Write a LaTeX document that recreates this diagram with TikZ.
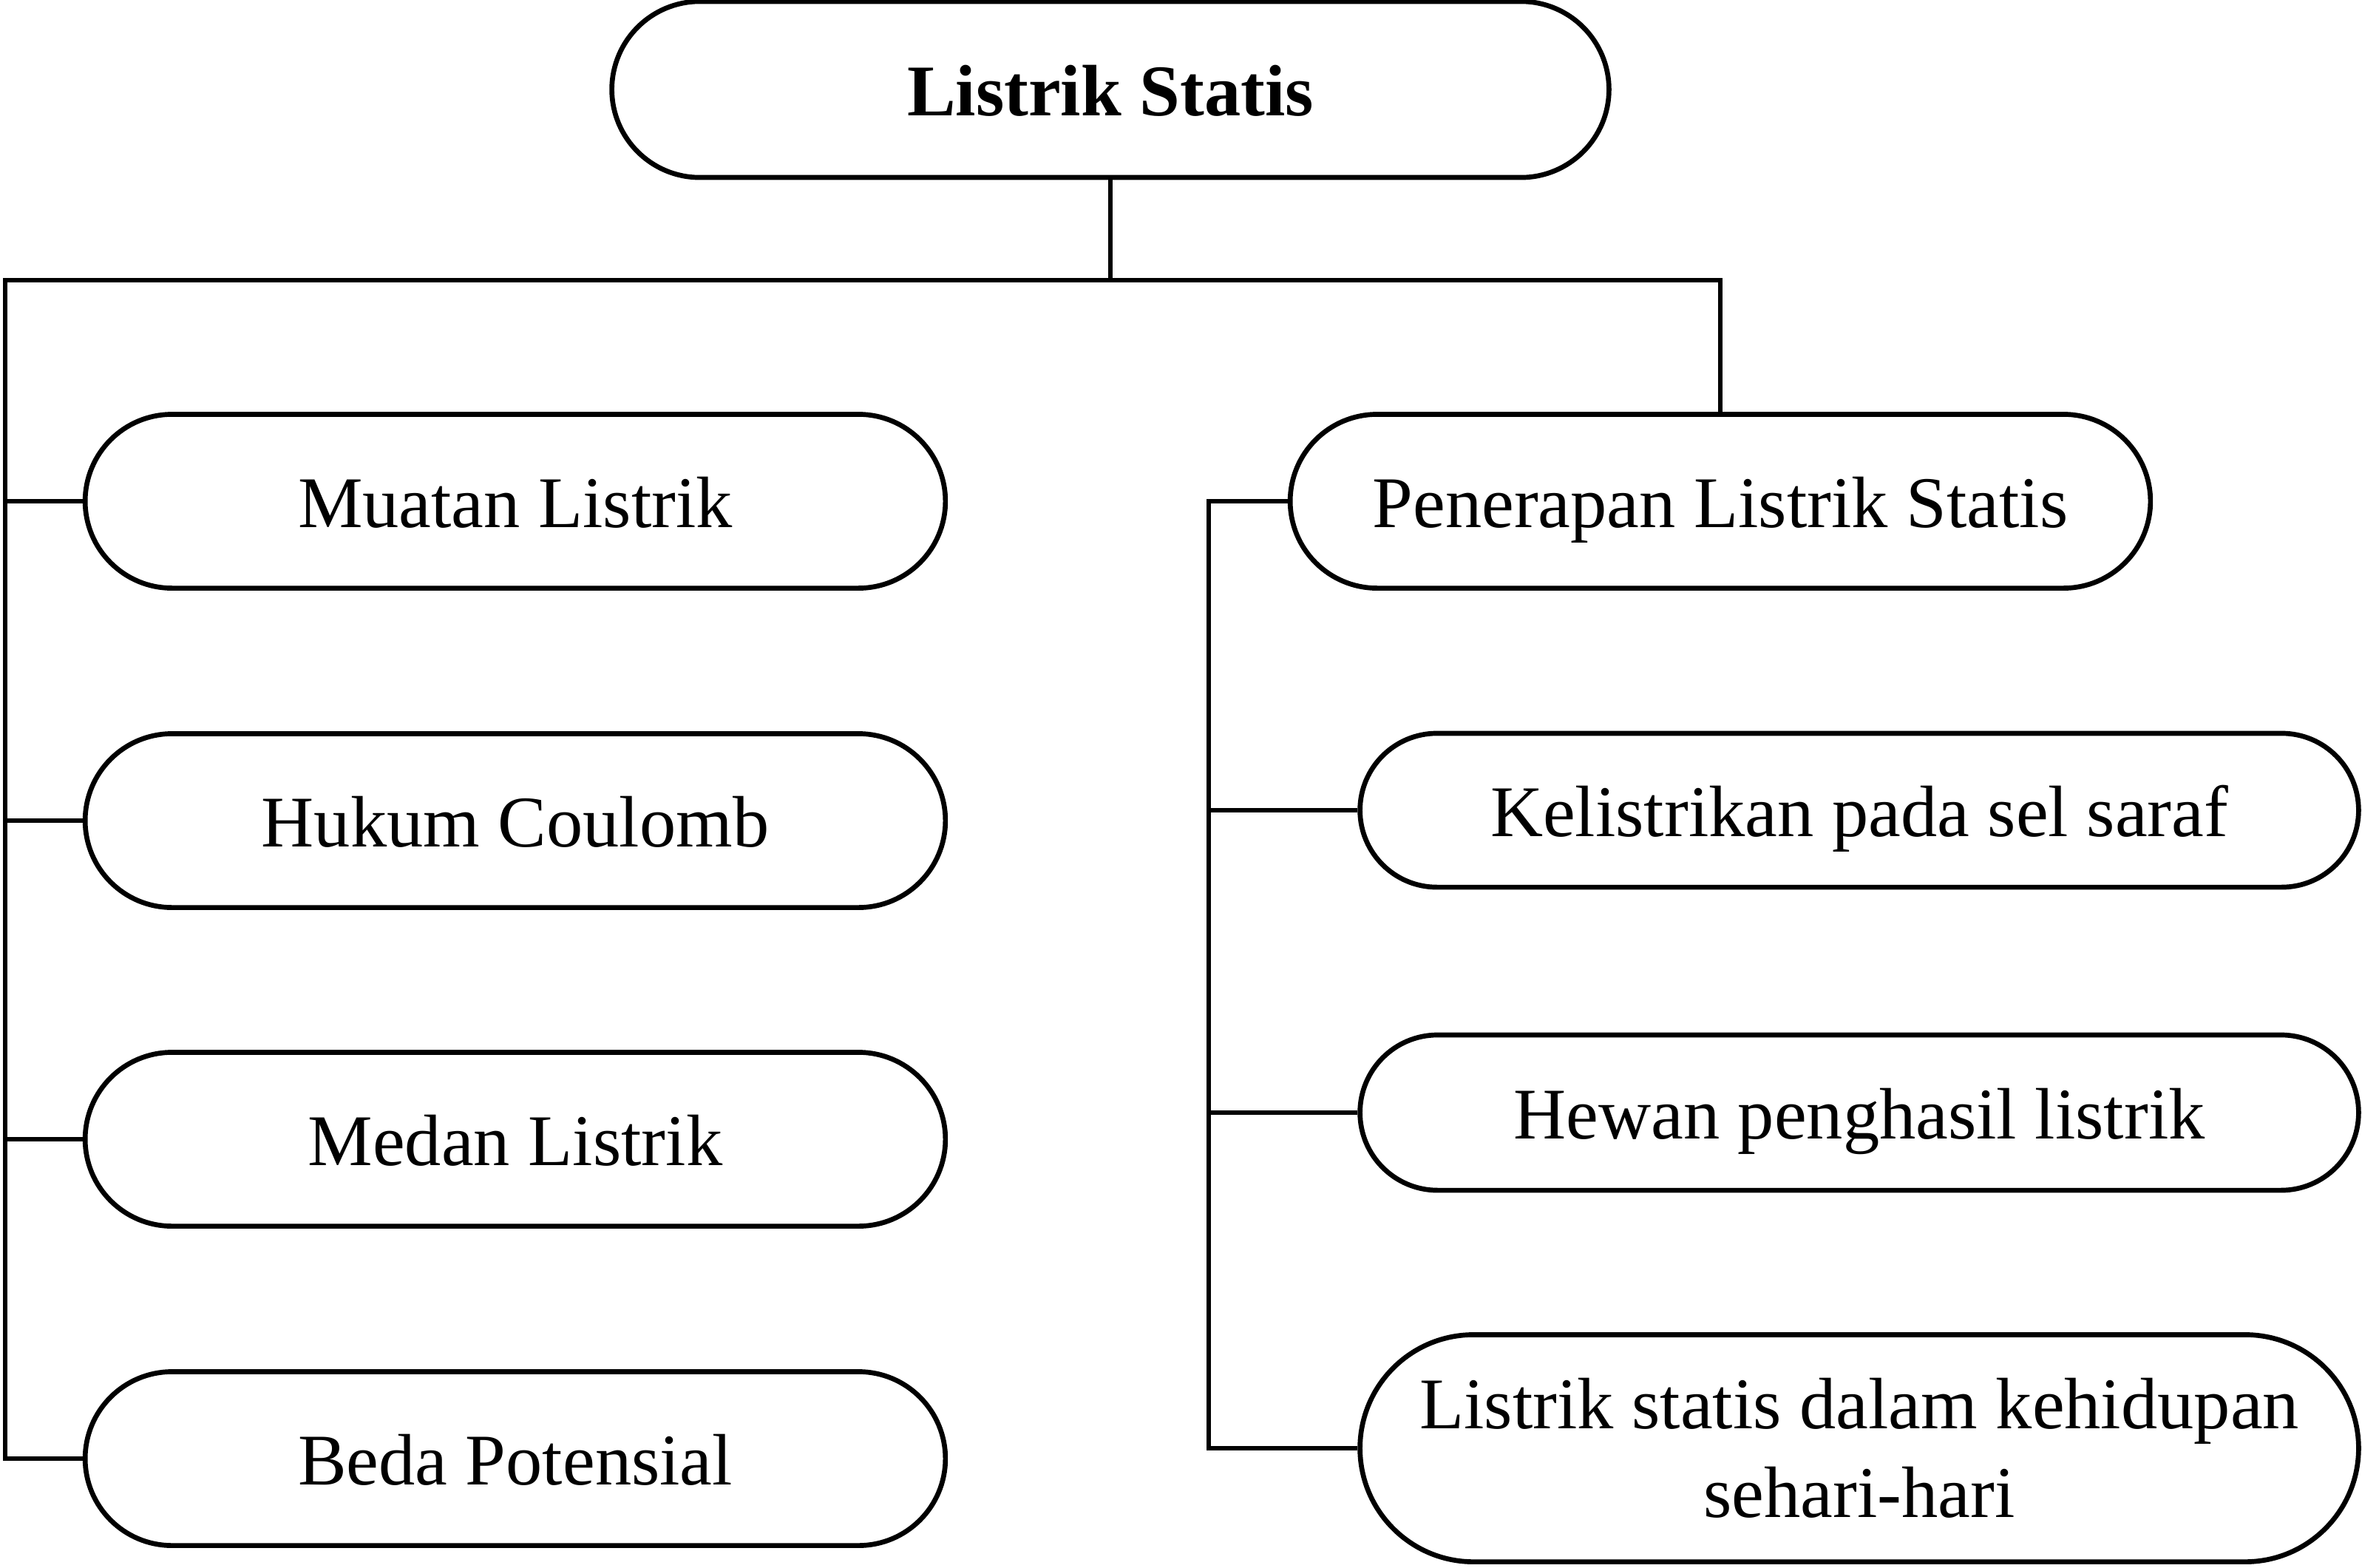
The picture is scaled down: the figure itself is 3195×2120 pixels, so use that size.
\documentclass[tikz,border=0pt]{standalone}
\usepackage{fontspec}
\setmainfont{Liberation Serif}
\usetikzlibrary{shapes.misc, positioning}

\begin{document}
\begin{tikzpicture}[x=0.01cm, y=-0.01cm,
  pill/.style={draw, rounded rectangle, line width=1.9pt, inner sep=0pt, align=center, font=\fontsize{28}{34}\selectfont},
  oneline/.style={text height=20pt, text depth=0pt},
  subbox/.style={pill, oneline, minimum width=11.63cm, minimum height=2.35cm},
  appbox/.style={pill, minimum width=13.5cm, minimum height=2.08cm},
  link/.style={line width=1.9pt}]
  \useasboundingbox (0,0) rectangle (3195,2120);

  % Root
  \node[pill, oneline, minimum width=13.48cm, minimum height=2.38cm, font=\fontsize{28}{34}\selectfont\bfseries] (root) at (1502, 121) {Listrik Statis};

  % Left branch
  \node[subbox] (muatan) at (697, 678) {Muatan Listrik};
  \node[subbox] (hukum) at (697, 1110) {Hukum Coulomb};
  \node[subbox] (medan) at (697, 1541) {Medan Listrik};
  \node[subbox] (beda) at (697, 1973) {Beda Potensial};

  % Right branch
  \node[subbox] (penerapan) at (2327, 678) {Penerapan Listrik Statis};
  \node[appbox, oneline] (saraf) at (2515, 1096) {Kelistrikan pada sel saraf};
  \node[appbox, oneline, minimum height=2.1cm] (hewan) at (2515, 1505) {Hewan penghasil listrik};
  \node[appbox, minimum height=3.07cm] (sehari) at (2515, 1959) {Listrik statis dalam kehidupan\\sehari-hari};

  % Bus lines
  \coordinate (hub) at (1502, 379);
  \coordinate (lbus) at (7, 379);
  \coordinate (rbus) at (1635, 678);

  \draw[link] (root.south) -- (hub);
  \draw[link] (penerapan.north) |- (lbus) |- (beda.west);
  \draw[link] (lbus |- muatan.west) -- (muatan.west);
  \draw[link] (lbus |- hukum.west) -- (hukum.west);
  \draw[link] (lbus |- medan.west) -- (medan.west);

  \draw[link] (penerapan.west) -- (rbus) |- (sehari.west);
  \draw[link] (rbus |- saraf.west) -- (saraf.west);
  \draw[link] (rbus |- hewan.west) -- (hewan.west);
\end{tikzpicture}
\end{document}
